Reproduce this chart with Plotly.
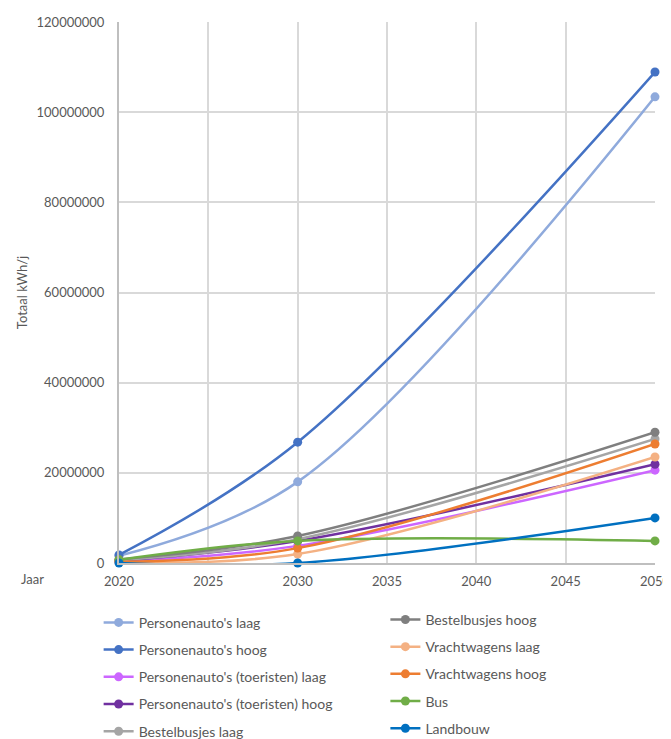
import plotly.graph_objects as go

years = [2020, 2030, 2050]

personen_laag = [1.6e6, 18.0e6, 103.4e6]
personen_hoog = [1.8e6, 26.8e6, 108.9e6]
toeristen_laag = [0.4e6, 3.8e6, 20.6e6]
toeristen_hoog = [0.5e6, 4.9e6, 21.9e6]
bestel_laag = [0.6e6, 5.3e6, 27.5e6]
bestel_hoog = [0.8e6, 6.0e6, 29.0e6]
vracht_laag = [0.2e6, 2.0e6, 23.5e6]
vracht_hoog = [0.3e6, 3.3e6, 26.4e6]
bus = [0.7e6, 4.9e6, 4.9e6]
landbouw = [0.0, 0.0, 10.0e6]

y_ticks = [0, 20000000, 40000000, 60000000, 80000000, 100000000, 120000000]
x_ticks = [2020, 2025, 2030, 2035, 2040, 2045, 2050]

series = [
    ("Personenauto's laag", personen_laag, "#8faadc", "legend"),
    ("Personenauto's hoog", personen_hoog, "#4472c4", "legend"),
    ("Personenauto's (toeristen) laag", toeristen_laag, "#cc66ff", "legend"),
    ("Personenauto's (toeristen) hoog", toeristen_hoog, "#7030a0", "legend"),
    ("Bestelbusjes laag", bestel_laag, "#a5a5a5", "legend"),
    ("Bestelbusjes hoog", bestel_hoog, "#7f7f7f", "legend2"),
    ("Vrachtwagens laag", vracht_laag, "#f4b183", "legend2"),
    ("Vrachtwagens hoog", vracht_hoog, "#ed7d31", "legend2"),
    ("Bus", bus, "#70ad47", "legend2"),
    ("Landbouw", landbouw, "#0070c0", "legend2"),
]

fig = go.Figure()
for i, (name, vals, col, lg) in enumerate(series):
    fig.add_trace(go.Scatter(
        x=years, y=vals, name=name, mode="lines+markers",
        line=dict(color=col, width=2.5, shape="spline", smoothing=1.0),
        marker=dict(color=col, size=9),
        cliponaxis=False, legend=lg, legendgroup=name,
    ))

font_family = "Lato, 'Open Sans', sans-serif"
fig.update_layout(
    width=671, height=739,
    margin=dict(l=111, r=24, t=14, b=184, autoexpand=False),
    paper_bgcolor="white", plot_bgcolor="white",
    font=dict(family=font_family, size=13, color="#595959"),
    showlegend=True,
    xaxis=dict(
        range=[2020, 2050], tickvals=x_ticks, ticktext=[str(t) for t in x_ticks],
        showgrid=True, gridcolor="#d9d9d9", gridwidth=2,
        showline=True, linecolor="#bfbfbf", linewidth=2,
        zeroline=False, ticks="", ticklen=0, ticklabelstandoff=5,
        tickfont=dict(size=13, color="#595959"),
    ),
    yaxis=dict(
        range=[0, 120000000], tickvals=y_ticks, ticktext=[str(t) for t in y_ticks],
        showgrid=True, gridcolor="#d9d9d9", gridwidth=2,
        showline=True, linecolor="#bfbfbf", linewidth=2,
        zeroline=False, ticks="", ticklabelstandoff=10,
        tickfont=dict(size=13, color="#595959"),
        title=dict(text="Totaal kWh/j", font=dict(size=13, color="#595959"), standoff=6),
    ),
    legend=dict(
        x=-0.038, y=-0.081, xanchor="left", yanchor="top", orientation="v",
        font=dict(size=14, color="#595959"), tracegroupgap=6,
        bgcolor="rgba(0,0,0,0)", itemwidth=30,
    ),
    legend2=dict(
        x=0.497, y=-0.0755, xanchor="left", yanchor="top", orientation="v",
        font=dict(size=14, color="#595959"), tracegroupgap=6,
        bgcolor="rgba(0,0,0,0)", itemwidth=30,
    ),
    annotations=[dict(
        text="Jaar", xref="paper", yref="paper", x=-0.162, y=-0.03,
        xanchor="center", yanchor="middle", showarrow=False,
        font=dict(size=13, color="#595959"),
    )],
)

fig.write_html("out.html")
